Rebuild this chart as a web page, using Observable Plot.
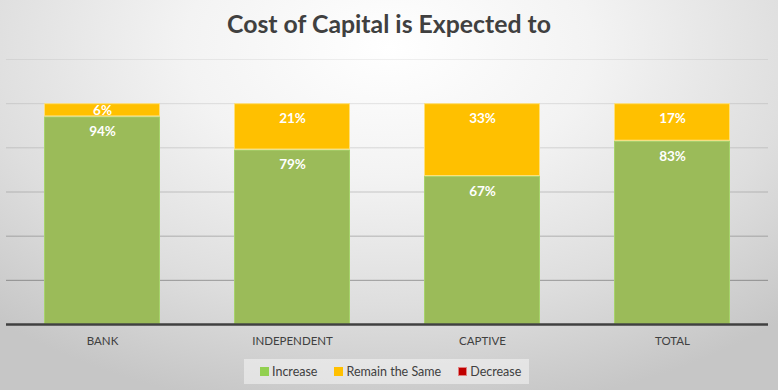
<!DOCTYPE html>
<html>
<head>
<meta charset="utf-8">
<script src="https://cdn.jsdelivr.net/npm/d3@7"></script>
<script src="https://cdn.jsdelivr.net/npm/@observablehq/plot@0.6"></script>
<style>
  html, body { margin: 0; padding: 0; }
  #wrap {
    position: relative; width: 778px; height: 390px; overflow: hidden;
    background: radial-gradient(ellipse 75% 95% at 50% 12%, #ffffff 0%, #f3f3f3 35%, #dedede 70%, #c6c6c6 100%);
    font-family: Lato, "Open Sans", sans-serif;
  }
  #title {
    position: absolute; left: 0; top: 8px; width: 778px; text-align: center;
    font-weight: bold; font-size: 24.8px; color: #404040; line-height: 32px;
  }
  #chart { position: absolute; left: 0; top: 0; }
  #legend {
    position: absolute; left: 244px; top: 359px; width: 285px; height: 25px;
    box-sizing: border-box; padding-left: 16px;
    background: rgba(245,245,245,0.55);
    display: flex; align-items: center; justify-content: flex-start; gap: 17px;
    font-size: 12.5px; color: #404040;
  }
  #legend .item { display: flex; align-items: center; gap: 3px; }
  #legend .sw { width: 9px; height: 9px; display: inline-block; box-sizing: border-box; }
</style>
</head>
<body>
<div id="wrap">
  <div id="title">Cost of Capital is Expected to</div>
  <div id="chart"></div>
  <div id="legend"></div>
</div>
<script>
const categories = ["BANK", "INDEPENDENT", "CAPTIVE", "TOTAL"];
const series = ["Increase", "Remain the Same", "Decrease"];
const increase = [94, 79, 67, 83];
const remain = [6, 21, 33, 17];
const decrease = [0, 0, 0, 0];
const gridTicks = [20, 40, 60, 80, 100, 120];

const fills = {"Increase": "#9BBB59", "Remain the Same": "#FFC000", "Decrease": "#C00000"};
const edges = {"Increase": "#a6d36a", "Remain the Same": "#ffe07a", "Decrease": "#d04040"};
const legendFills = {"Increase": "#92D050", "Remain the Same": "#FFC000", "Decrease": "#C00000"};
const legendEdges = {"Increase": "#92D050", "Remain the Same": "#FFC000", "Decrease": "#e08080"};
const gridOpacity = {20: 0.32, 40: 0.24, 60: 0.18, 80: 0.13, 100: 0.1, 120: 0.06};

const valuesBySeries = [increase, remain, decrease];
const rows = [];
categories.forEach((c, i) => {
  let start = 0;
  series.forEach((s, k) => {
    const v = valuesBySeries[k][i];
    rows.push({category: c, series: s, value: v, start, end: start + v});
    start += v;
  });
});
const labels = rows.filter(d => d.value > 0).map(d => ({
  ...d,
  ly: Math.max(d.end - 6.8, (d.start + d.end) / 2)
}));

const plot = Plot.plot({
  width: 778,
  height: 390,
  marginTop: 59,
  marginBottom: 66,
  marginLeft: 6,
  marginRight: 10,
  style: {background: "transparent", fontFamily: "Lato, 'Open Sans', sans-serif"},
  x: {domain: categories, paddingInner: 0.39, paddingOuter: 0.195, label: null, tickSize: 0, tickPadding: 12},
  y: {domain: [0, 120], axis: null},
  marks: [
    Plot.ruleY(gridTicks, {stroke: "#000", strokeOpacity: d => gridOpacity[d], strokeWidth: 1}),
    Plot.barY(rows.filter(d => d.value > 0), {
      x: "category", y1: "start", y2: "end",
      fill: d => fills[d.series], stroke: d => edges[d.series], strokeWidth: 1, inset: 0.5
    }),
    Plot.ruleY([0], {stroke: "#404040", strokeWidth: 2.5}),
    Plot.text(labels, {
      x: "category", y: "ly", text: d => d.value + "%",
      fill: "white", fontWeight: "bold", fontSize: 13.5
    }),
    Plot.axisX({tickSize: 0, tickPadding: 12, fontSize: 11.5, color: "#404040", label: null})
  ]
});
plot.querySelectorAll('[aria-label="x-axis tick label"] text').forEach(t => t.setAttribute("fill", "#404040"));
document.getElementById("chart").appendChild(plot);

const legend = document.getElementById("legend");
series.forEach(s => {
  const item = document.createElement("span");
  item.className = "item";
  const sw = document.createElement("span");
  sw.className = "sw";
  sw.style.background = legendFills[s];
  sw.style.border = "1px solid " + legendEdges[s];
  item.appendChild(sw);
  item.appendChild(document.createTextNode(s));
  legend.appendChild(item);
});
</script>
</body>
</html>
